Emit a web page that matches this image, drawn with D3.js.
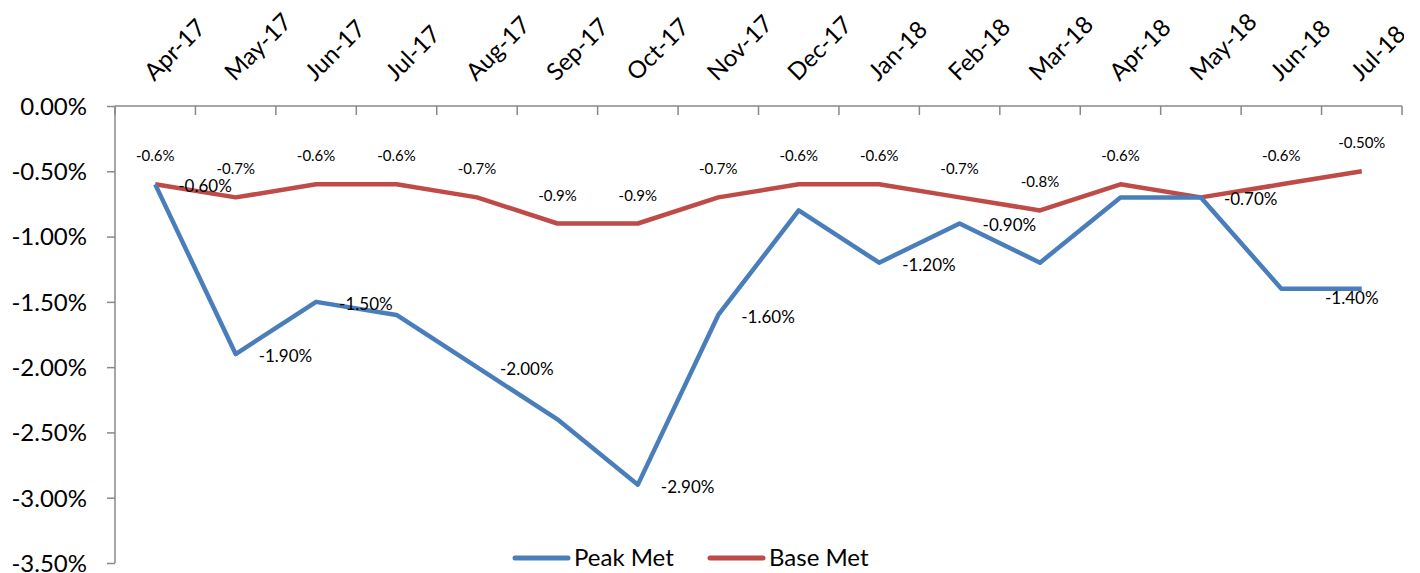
<!DOCTYPE html>
<html>
<head>
<meta charset="utf-8">
<script src="https://cdn.jsdelivr.net/npm/d3@7"></script>
<style>
  body { margin: 0; background: #fff; }
  svg { display: block; overflow: hidden; }
</style>
</head>
<body>
<div id="chart"><svg width="1404" height="573"></svg></div>
<script>
// Data
let months = ["Apr-17", "May-17", "Jun-17", "Jul-17", "Aug-17", "Sep-17", "Oct-17", "Nov-17",
  "Dec-17", "Jan-18", "Feb-18", "Mar-18", "Apr-18", "May-18", "Jun-18", "Jul-18"];
let peakMet = [-0.6, -1.9, -1.5, -1.6, -2.0, -2.4, -2.9, -1.6, -0.8, -1.2, -0.9, -1.2, -0.7, -0.7, -1.4, -1.4];
let baseMet = [-0.6, -0.7, -0.6, -0.6, -0.7, -0.9, -0.9, -0.7, -0.6, -0.6, -0.7, -0.8, -0.6, -0.7, -0.6, -0.5];
let yTicks = [0, -0.5, -1.0, -1.5, -2.0, -2.5, -3.0, -3.5];

// Which points carry a data label (indices into the arrays)
let peakLabelIdx = [0, 1, 2, 4, 6, 7, 9, 10, 13, 15];
let baseLabelIdx = [0, 1, 2, 3, 4, 5, 6, 7, 8, 9, 10, 11, 12, 14, 15];

let colors = {
  peak: "#4a7ebb",
  base: "#be4b48",
  axis: "#898989",
  text: "#000"
};
let font = "Lato, 'Open Sans', sans-serif";

// plain hyphen minus, like the original
let locale = d3.formatLocale({ decimal: ".", thousands: ",", grouping: [3], currency: ["", ""], minus: "-" });
let fmt2 = locale.format(".2f");
let fmt1 = locale.format(".1f");

let svg = d3.select("div#chart svg"),
  margin = { top: 106, left: 115 },
  width = 1287,
  height = 457,
  g = svg.append("g").attr("transform", "translate(" + margin.left + "," + margin.top + ")");

// Scales
let x = d3.scaleBand().domain(months).range([0, width]);
let y = d3.scaleLinear().domain([-3.5, 0]).range([height, 0]);
let cx = i => x(months[i]) + x.bandwidth() / 2;

// Y axis
let yAxis = g.append("g")
  .attr("class", "axis axis_y")
  .call(d3.axisLeft(y).tickValues(yTicks).tickSize(8).tickPadding(20)
    .tickFormat(d => fmt2(d) + "%"));
yAxis.selectAll("path, line").attr("stroke", colors.axis).attr("stroke-width", 1.5);
yAxis.select("path").attr("d", "M0," + height + "V0");
yAxis.selectAll("text")
  .style("font-family", font)
  .style("font-size", "24px")
  .attr("fill", colors.text);
yAxis.selectAll(".tick text").attr("dy", "0.35em");

// X axis (labels on top, ticks at category boundaries)
let xAxis = g.append("g").attr("class", "axis axis_x");
xAxis.append("line")
  .attr("x1", 0).attr("x2", width)
  .attr("y1", 0).attr("y2", 0)
  .attr("stroke", colors.axis)
  .attr("stroke-width", 1.5);
xAxis.selectAll("line.tick")
  .data(months.concat(["end"]))
  .enter()
  .append("line")
  .attr("class", "tick")
  .attr("x1", (d, i) => i < months.length ? x(d) : width)
  .attr("x2", (d, i) => i < months.length ? x(d) : width)
  .attr("y1", 0).attr("y2", 9)
  .attr("stroke", colors.axis)
  .attr("stroke-width", 1.5);
xAxis.selectAll("text")
  .data(months)
  .enter()
  .append("text")
  .attr("transform", (d, i) => "translate(" + (cx(i) - 1) + "," + (-24) + ") rotate(-45)")
  .text(d => d)
  .style("font-family", font)
  .style("font-size", "24px")
  .attr("fill", colors.text);

// Lines
let line = d3.line()
  .x((d, i) => cx(i))
  .y(d => y(d));

g.append("path")
  .datum(baseMet)
  .attr("d", line)
  .attr("fill", "none")
  .attr("stroke", colors.base)
  .attr("stroke-width", 4.5)
  .attr("stroke-linejoin", "round");

g.append("path")
  .datum(peakMet)
  .attr("d", line)
  .attr("fill", "none")
  .attr("stroke", colors.peak)
  .attr("stroke-width", 4.5)
  .attr("stroke-linejoin", "round");

// Base Met labels (above)
g.append("g")
  .selectAll("text")
  .data(baseLabelIdx)
  .enter()
  .append("text")
  .attr("x", i => cx(i))
  .attr("y", i => y(baseMet[i]) - 23)
  .text(i => i == 15 ? fmt2(baseMet[i]) + "%" : fmt1(baseMet[i]) + "%")
  .style("font-family", font)
  .style("font-size", "15px")
  .style("text-anchor", "middle")
  .attr("fill", colors.text);

// Peak Met labels (right)
g.append("g")
  .selectAll("text")
  .data(peakLabelIdx)
  .enter()
  .append("text")
  .attr("x", i => i == 15 ? cx(i) - 10 : cx(i) + 23)
  .attr("y", i => i == 15 ? y(peakMet[i]) + 9 : y(peakMet[i]) + 2)
  .attr("dy", "0.35em")
  .text(i => fmt2(peakMet[i]) + "%")
  .style("font-family", font)
  .style("font-size", "17px")
  .style("text-anchor", i => i == 15 ? "middle" : "start")
  .attr("fill", colors.text);

// Legend
let legendItems = [
  { name: "Peak Met", color: colors.peak, x: 400 },
  { name: "Base Met", color: colors.base, x: 595 }
];
let legend = g.append("g").attr("class", "legend");
legendItems.forEach(item => {
  legend.append("line")
    .attr("x1", item.x).attr("x2", item.x + 53)
    .attr("y1", 452).attr("y2", 452)
    .attr("stroke", item.color)
    .attr("stroke-width", 5)
    .attr("stroke-linecap", "round");
  legend.append("text")
    .attr("x", item.x + 59)
    .attr("y", 452)
    .attr("dy", "0.35em")
    .text(item.name)
    .style("font-family", font)
    .style("font-size", "24px")
    .attr("fill", colors.text);
});
</script>
</body>
</html>
